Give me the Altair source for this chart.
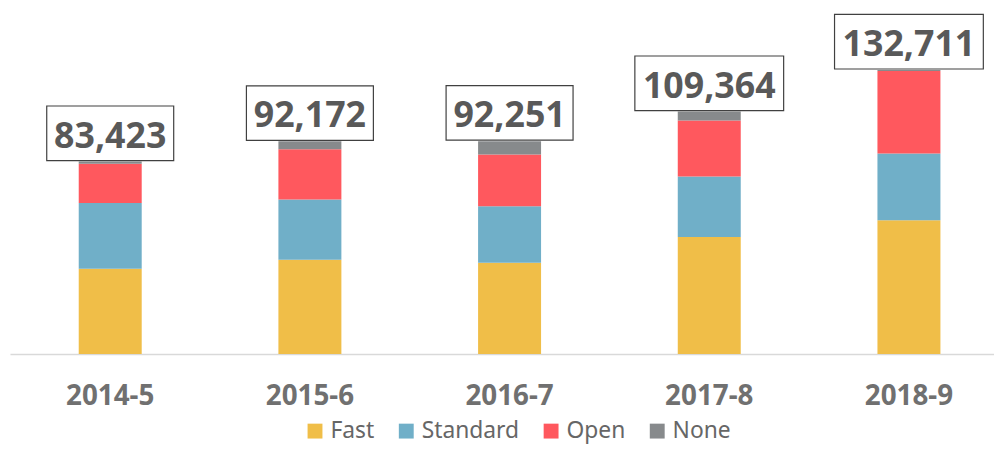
import altair as alt
import pandas as pd

periods = ["2014-5", "2015-6", "2016-7", "2017-8", "2018-9"]
series = ["Fast", "Standard", "Open", "None"]
fast = [36980, 40850, 39560, 50740, 57920]
standard = [28510, 26100, 24510, 26230, 28940]
open_ = [16940, 21760, 22360, 24210, 35800]
none = [990, 3460, 5820, 3900, 450]
totals = [83423, 92172, 92251, 109364, 132711]
colors = ["#F0BE48", "#70AFC8", "#FF585E", "#878A8C"]

rows = []
for i, p in enumerate(periods):
    for k, (name, vals) in enumerate(zip(series, [fast, standard, open_, none])):
        rows.append({"period": p, "series": name, "order": k, "value": vals[i]})
df = pd.DataFrame(rows)

tops = [fast[i] + standard[i] + open_[i] + none[i] for i in range(len(periods))]
tot_df = pd.DataFrame({
    "period": periods,
    "top": tops,
    "label": [f"{t:,}" for t in totals],
})

x_enc = alt.X(
    "period:N",
    sort=periods,
    scale=alt.Scale(paddingInner=0.6846, paddingOuter=0.3063, align=0.562),
    axis=alt.Axis(
        title=None, labelAngle=0, ticks=False, tickSize=0, labelPadding=51,
        labelBaseline="alphabetic", labelFont="Noto Sans", labelFontWeight="bold",
        labelFontSize=28, labelColor="#707070", domainColor="#d9d9d9",
        domainWidth=1.5, grid=False,
    ),
)
y_scale = alt.Scale(domain=[0, 146200], nice=False, zero=True)

bars = alt.Chart(df).mark_bar().encode(
    x=x_enc,
    y=alt.Y("value:Q", stack="zero", scale=y_scale, axis=None),
    color=alt.Color(
        "series:N",
        sort=series,
        scale=alt.Scale(domain=series, range=colors),
        legend=alt.Legend(
            orient="none", direction="horizontal", legendX=296, legendY=406,
            title=None, symbolType="square", symbolSize=225, symbolStrokeWidth=0,
            labelFont="Noto Sans", labelFontSize=23, labelColor="#666666",
            labelOffset=4, columnPadding=20, padding=0,
        ),
    ),
    order=alt.Order("order:Q", sort="ascending"),
)

base_tot = alt.Chart(tot_df)

box_short = base_tot.transform_filter("length(datum.label) <= 6").mark_rect(
    width=128, height=55, fill="white", stroke="#404040", strokeWidth=1.2, yOffset=-28.5
).encode(x=x_enc, y=alt.Y("top:Q", scale=y_scale, axis=None))

box_long = base_tot.transform_filter("length(datum.label) > 6").mark_rect(
    width=150, height=55, fill="white", stroke="#404040", strokeWidth=1.2, yOffset=-28.5
).encode(x=x_enc, y=alt.Y("top:Q", scale=y_scale, axis=None))

labels = base_tot.mark_text(
    font="Noto Sans", fontWeight="bold", fontSize=36, color="#595959",
    baseline="alphabetic", dy=-14,
).encode(x=x_enc, y=alt.Y("top:Q", scale=y_scale, axis=None), text="label:N")

chart = alt.layer(bars, box_short, box_long, labels).properties(
    width=992,
    height=340,
    autosize=alt.AutoSizeParams(type="none"),
    padding={"left": 2, "top": 7, "right": 0, "bottom": 93},
    background="white",
).configure_view(stroke=None)

chart.save("out.html", embed_options={"renderer": "svg", "actions": False})
